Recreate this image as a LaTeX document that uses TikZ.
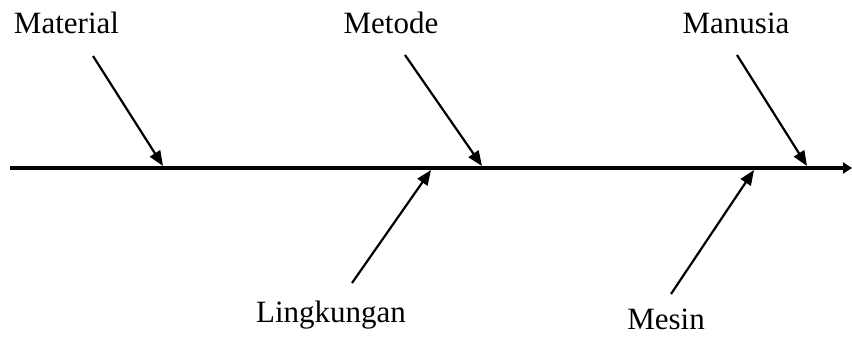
\documentclass[tikz,border=0pt]{standalone}
\usepackage{fontspec}
\setmainfont{Liberation Serif}
\usetikzlibrary{arrows.meta}
\begin{document}
\begin{tikzpicture}[x=1pt,y=-1pt,
  lbl/.style={font=\fontsize{31}{36}\selectfont, inner sep=0pt, anchor=base},
  bone/.style={line width=2.2pt, -{Triangle[length=15pt,width=12pt]}},
  spine/.style={line width=3.4pt, -{Triangle[length=9pt,width=11pt]}}]
\useasboundingbox (0,0) rectangle (852,337);
% labels
\node[lbl] (mat) at (66.5,34) {Material};
\node[lbl] (met) at (391,34) {Metode};
\node[lbl] (man) at (736,34) {Manusia};
\node[lbl] (lin) at (331,322) {Lingkungan};
\node[lbl] (mes) at (666,329) {Mesin};
% spine
\coordinate (s0) at (10,168);
\coordinate (s1) at (852,168);
\draw[spine] (s0) -- (s1);
% branch start points
\coordinate (a1) at (93,56);
\coordinate (a2) at (405,55);
\coordinate (a3) at (737,55);
\coordinate (b1) at (352,283);
\coordinate (b2) at (671,294);
% branch tips on spine
\coordinate (t1) at (163,166);
\coordinate (t2) at (482,166);
\coordinate (t3) at (807,166);
\coordinate (u1) at (431,170);
\coordinate (u2) at (754,170);
\draw[bone] (a1) -- (t1);
\draw[bone] (a2) -- (t2);
\draw[bone] (a3) -- (t3);
\draw[bone] (b1) -- (u1);
\draw[bone] (b2) -- (u2);
\end{tikzpicture}
\end{document}
